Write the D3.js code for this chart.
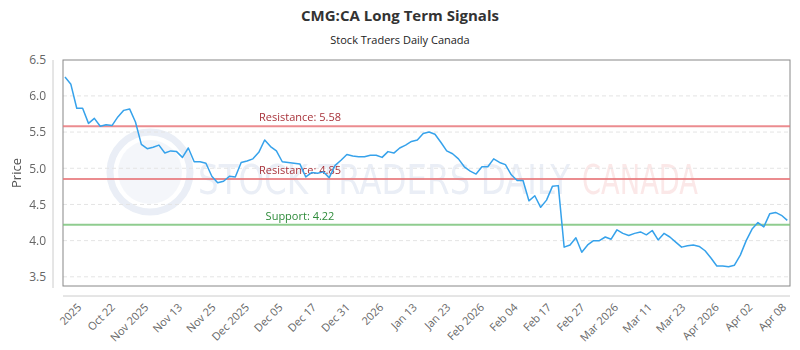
<!DOCTYPE html>
<html><head><meta charset="utf-8">
<script src="https://cdn.jsdelivr.net/npm/d3@7"></script>
<style>body{margin:0;background:#fff;}svg{display:block;font-family:"Open Sans","DejaVu Sans",sans-serif;}</style>
</head><body><svg id="c" width="800" height="350"></svg>
<script>
const title = "CMG:CA Long Term Signals";
const subtitle = "Stock Traders Daily Canada";
const prices = [6.26,6.16,5.83,5.83,5.62,5.69,5.58,5.60,5.59,5.71,5.80,5.82,5.64,5.33,5.27,5.29,5.32,5.21,5.24,5.23,
5.15,5.28,5.09,5.09,5.07,4.89,4.80,4.82,4.89,4.88,5.08,5.10,5.13,5.22,5.39,5.30,5.24,5.09,5.08,5.07,
5.06,4.88,4.94,4.93,4.95,4.87,5.04,5.11,5.19,5.17,5.16,5.16,5.18,5.18,5.15,5.23,5.21,5.28,5.32,5.37,
5.39,5.48,5.50,5.47,5.36,5.24,5.20,5.13,5.02,4.96,4.92,5.02,5.02,5.13,5.08,5.05,4.91,4.83,4.83,4.55,
4.62,4.46,4.56,4.75,4.76,3.91,3.94,4.04,3.84,3.94,4.00,4.00,4.05,4.02,4.15,4.10,4.07,4.10,4.12,4.08,
4.14,4.01,4.10,4.05,3.98,3.91,3.93,3.94,3.92,3.86,3.76,3.65,3.65,3.64,3.66,3.80,4.00,4.16,4.25,4.19,
4.37,4.39,4.35,4.28];
const tickLabels = ["2025","Oct 22","Nov 2025","Nov 13","Nov 25","Dec 2025","Dec 05","Dec 17","Dec 31","2026","Jan 13","Jan 23","Feb 2026","Feb 04","Feb 17","Feb 27","Mar 2026","Mar 11","Mar 23","Apr 2026","Apr 02","Apr 08"];
const yTicks = [3.5,4.0,4.5,5.0,5.5,6.0,6.5];
const levels = [
  {label:"Resistance: 5.58", value:5.58, kind:"res"},
  {label:"Resistance: 4.85", value:4.85, kind:"res"},
  {label:"Support: 4.22", value:4.22, kind:"sup"}
];

const svg = d3.select("#c");
const L = 63, R = 790, T = 60, B = 286;
const x = d3.scaleLinear().domain([0, prices.length - 1]).range([L + 2, R - 2.7]);
const y = d3.scaleLinear().domain([3.373, 6.496]).range([B, T]);
const xl = d3.scalePoint().domain(tickLabels).range([x(2.5), x(122.5)]);

// title
svg.append("text").attr("x", 400).attr("y", 21).attr("text-anchor", "middle")
  .attr("font-size", 15).attr("font-weight", "bold").attr("fill", "#333").text(title);
svg.append("text").attr("x", 400).attr("y", 44).attr("text-anchor", "middle")
  .attr("font-size", 11).attr("fill", "#222").text(subtitle);

// watermark
const wm = svg.append("g").attr("opacity", 0.13);
wm.append("circle").attr("cx", 150).attr("cy", 172).attr("r", 40).attr("fill", "none").attr("stroke", "#5b7fb8").attr("stroke-width", 7);
wm.append("circle").attr("cx", 150).attr("cy", 172).attr("r", 32).attr("fill", "#5b7fb8").attr("opacity", 0.5);
wm.append("text").attr("x", 198).attr("y", 194).attr("font-size", 40).attr("font-family", "'DejaVu Sans Condensed','DejaVu Sans',sans-serif")
  .attr("fill", "#5b7fb8").attr("textLength", 372).attr("lengthAdjust", "spacingAndGlyphs").text("STOCK TRADERS DAILY");
wm.append("text").attr("x", 582).attr("y", 194).attr("font-size", 40).attr("font-family", "'DejaVu Sans Condensed','DejaVu Sans',sans-serif")
  .attr("fill", "#e05050").attr("textLength", 116).attr("lengthAdjust", "spacingAndGlyphs").text("CANADA");

// gridlines
svg.append("g").selectAll("line").data(yTicks.filter(v => v < 6.5)).join("line")
  .attr("x1", L).attr("x2", R).attr("y1", d => y(d)).attr("y2", d => y(d))
  .attr("stroke", "#e4e4e4").attr("stroke-dasharray", "4,3");

// y axis
const yAxis = svg.append("g").attr("transform", `translate(53,0)`)
  .call(d3.axisLeft(y).tickValues(yTicks).tickFormat(d3.format(".1f")).tickSize(0).tickPadding(7));
yAxis.select(".domain").attr("stroke", "#ccc").attr("d", `M0,${T}V${B + 2}`);
yAxis.selectAll("text").attr("font-size", 12).attr("fill", "#666").attr("font-family", "'Open Sans',sans-serif");
svg.append("text").attr("transform", `translate(21,${(T + B) / 2}) rotate(-90)`).attr("text-anchor", "middle")
  .attr("font-size", 13).attr("fill", "#555").text("Price");

// x axis
const xAxis = svg.append("g").attr("transform", `translate(0,296)`)
  .call(d3.axisBottom(xl).tickSize(0).tickPadding(0));
xAxis.select(".domain").attr("stroke", "#ccc").attr("d", `M${L},0H${R}`);
xAxis.selectAll("text").attr("font-size", 11).attr("fill", "#666").attr("font-family", "'Open Sans',sans-serif")
  .attr("text-anchor", "end").attr("dy", null).attr("transform", "translate(2,12) rotate(-45)");

// plot border
svg.append("rect").attr("x", L).attr("y", T).attr("width", R - L).attr("height", B - T)
  .attr("fill", "none").attr("stroke", "#888").attr("stroke-width", 1);

// levels
const lv = svg.append("g");
lv.selectAll("line").data(levels).join("line")
  .attr("x1", L).attr("x2", R).attr("y1", d => y(d.value)).attr("y2", d => y(d.value))
  .attr("stroke", d => d.kind === "res" ? "#e8787c" : "#7cc47c").attr("stroke-width", 2).attr("opacity", 0.85);
lv.selectAll("text").data(levels).join("text")
  .attr("x", 300).attr("y", d => y(d.value) - 5).attr("text-anchor", "middle").attr("font-size", 11)
  .attr("fill", d => d.kind === "res" ? "#a8323a" : "#2e8b3a").text(d => d.label);

// price line
svg.append("path").datum(prices)
  .attr("d", d3.line().x((d, i) => x(i)).y(d => y(d)))
  .attr("fill", "none").attr("stroke", "#36a2eb").attr("stroke-width", 1.5).attr("stroke-linejoin", "round");
</script></body></html>
